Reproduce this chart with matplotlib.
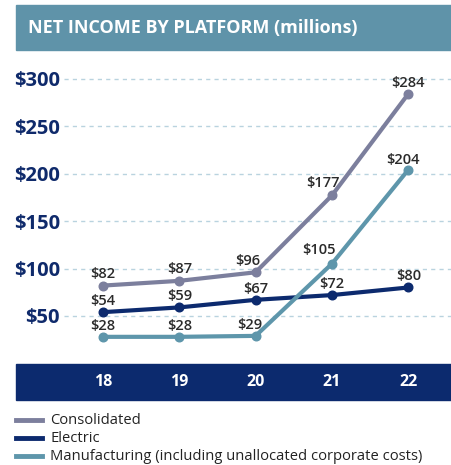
import matplotlib
matplotlib.use("Agg")
import matplotlib.pyplot as plt
from matplotlib.patches import Rectangle
from matplotlib.lines import Line2D

# data
years = [18, 19, 20, 21, 22]
consolidated = [82, 87, 96, 177, 284]
electric = [54, 59, 67, 72, 80]
manufacturing = [28, 28, 29, 105, 204]
yticks = [50, 100, 150, 200, 250, 300]
series_names = ["Consolidated", "Electric",
                "Manufacturing (including unallocated corporate costs)"]
title = "NET INCOME BY PLATFORM (millions)"

# styling
c_cons = "#7c7f9d"
c_elec = "#0c2a6e"
c_manu = "#5e96ab"
c_navy = "#0f2a6b"
c_banner = "#5f93a9"
c_grid = "#b9d3df"
c_label = "#2a2a2a"
font = "Open Sans"

W, H = 451, 465
fig = plt.figure(figsize=(W / 100, H / 100), dpi=100)
fig.patch.set_facecolor("white")

# title banner
fig.patches.append(Rectangle((16 / W, 1 - 50 / H), (W - 16) / W, 45 / H,
                             transform=fig.transFigure, color=c_banner, zorder=0))
fig.text(28 / W, 1 - 28 / H, title, color="white", fontsize=13,
         fontweight="bold", family=font, va="center", ha="left")

# x axis banner
fig.patches.append(Rectangle((16 / W, 1 - 400 / H), (W - 16) / W, 36 / H,
                             transform=fig.transFigure, color=c_elec, zorder=0))

ax = fig.add_axes([64 / W, 1 - 363.4 / H, (W - 64) / W, (363.4 - 55) / H])
ax.set_facecolor("none")
ax.set_xlim(17.49, 22.56)
ax.set_ylim(0, 325)
for s in ax.spines.values():
    s.set_visible(False)
for v in yticks:
    ax.axhline(v, color=c_grid, lw=1, dashes=(3, 3), zorder=1)
ax.set_yticks(yticks)
ax.set_yticklabels(["$%d" % v for v in yticks], color=c_navy, fontsize=14.5,
                   fontweight="bold", family=font)
ax.tick_params(axis="y", length=0, pad=3)
ax.set_xticks([])

series = [(consolidated, c_cons), (electric, c_elec), (manufacturing, c_manu)]
for vals, col in series:
    ax.plot(years, vals, color=col, lw=3, marker="o", ms=6.2, zorder=3,
            solid_capstyle="round")

# label offsets (pixels)
offsets = {
    0: [(0, 12), (0, 12), (-8, 11), (-9, 12), (0, 11)],
    1: [(0, 11), (0, 11), (0, 11), (0, 11), (0, 11)],
    2: [(0, 11), (0, 11), (-6, 11), (-13, 14), (-5, 10)],
}
for i, (vals, col) in enumerate(series):
    for j, (x, v) in enumerate(zip(years, vals)):
        dx, dy = offsets[i][j]
        ax.annotate("$%d" % v, (x, v), xytext=(dx, dy),
                    textcoords="offset pixels", ha="center", va="center",
                    fontsize=10.5, color=c_label, family=font,
                    fontweight="semibold", zorder=4)

# year labels in banner
for x in years:
    xp = ax.transData.transform((x, 0))[0] / W
    fig.text(xp, 1 - 382 / H, str(x), color="white", fontsize=11.5,
             fontweight="bold", family=font, ha="center", va="center")

# legend
for k, (name, (vals, col)) in enumerate(zip(series_names, series)):
    yy = 1 - (420 + 18 * k) / H
    fig.lines.append(Line2D([16 / W, 42 / W], [yy, yy], color=col, lw=3.5,
                            transform=fig.transFigure))
    fig.text(50 / W, yy, name, color="#222222", fontsize=10.6, family=font,
             ha="left", va="center")

fig.savefig("out.png", dpi=100)
